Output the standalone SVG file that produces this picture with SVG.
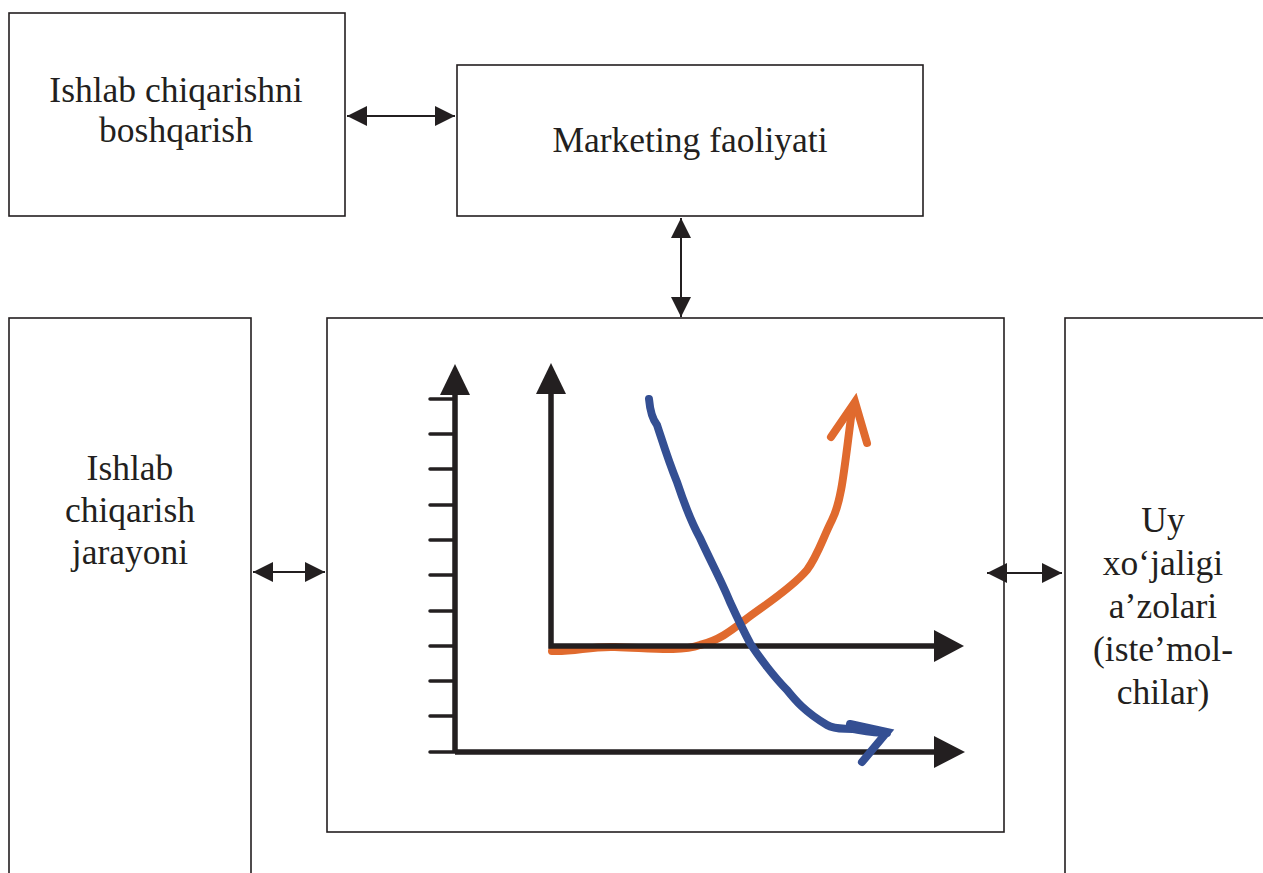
<svg xmlns="http://www.w3.org/2000/svg" width="1263" height="873" viewBox="0 0 1263 873">
<style>
.box{fill:#fff;stroke:#231f20;stroke-width:1.6}
.t{font-family:"Liberation Serif","Times New Roman",serif;font-size:35.5px;fill:#231f20;text-anchor:middle}
.con{stroke:#231f20;stroke-width:2;fill:none}
.ax{stroke:#231f20;stroke-width:5.5;fill:none}
.tick{stroke:#231f20;stroke-width:3.5;stroke-linecap:round}
.head{fill:#231f20}
</style>
<defs>
<marker id="ah" viewBox="0 0 20 20" refX="20" refY="10" markerWidth="20" markerHeight="20" markerUnits="userSpaceOnUse" orient="auto-start-reverse">
<path d="M0,0 L20,10 L0,20 Z" fill="#231f20"/>
</marker>
</defs>
<rect width="1263" height="873" fill="#fff"/>
<g id="node-boshqarish">
<rect class="box" x="9" y="13" width="336" height="203"/>
<text class="t" x="176" y="102">Ishlab chiqarishni</text>
<text class="t" x="176" y="142">boshqarish</text>
</g>
<g id="node-marketing">
<rect class="box" x="457" y="65" width="466" height="151"/>
<text class="t" x="690" y="152">Marketing faoliyati</text>
</g>
<g id="node-jarayon">
<rect class="box" x="9" y="318" width="242" height="570"/>
<text class="t" x="130" y="480">Ishlab</text>
<text class="t" x="130" y="522">chiqarish</text>
<text class="t" x="130" y="564">jarayoni</text>
</g>
<g id="node-uy">
<rect class="box" x="1065" y="318" width="220" height="570"/>
<text class="t" x="1163" y="532">Uy</text>
<text class="t" x="1163" y="575">xo‘jaligi</text>
<text class="t" x="1163" y="618">a’zolari</text>
<text class="t" x="1163" y="661">(iste’mol-</text>
<text class="t" x="1163" y="704">chilar)</text>
</g>
<g id="node-chart">
<rect class="box" x="327" y="318" width="677" height="514"/>
<g id="ticks">
<line class="tick" x1="430" y1="399" x2="455" y2="399"/>
<line class="tick" x1="430" y1="434" x2="455" y2="434"/>
<line class="tick" x1="430" y1="469" x2="455" y2="469"/>
<line class="tick" x1="430" y1="505" x2="455" y2="505"/>
<line class="tick" x1="430" y1="540" x2="455" y2="540"/>
<line class="tick" x1="430" y1="575" x2="455" y2="575"/>
<line class="tick" x1="430" y1="611" x2="455" y2="611"/>
<line class="tick" x1="430" y1="646" x2="455" y2="646"/>
<line class="tick" x1="430" y1="681" x2="455" y2="681"/>
<line class="tick" x1="430" y1="716" x2="455" y2="716"/>
<line class="tick" x1="430" y1="752" x2="455" y2="752"/>
</g>
<path d="M552,651 C575,652 590,646 615,647 C650,648 680,652 700,645 C720,640 732,630 745,620 C760,608 790,590 807,570 C818,555 822,540 832,520 C842,500 844,470 852,410" fill="none" stroke="#e06a2e" stroke-width="8" stroke-linecap="round"/>
<path d="M831,437 L855,402 L867,443" fill="none" stroke="#e06a2e" stroke-width="8" stroke-linecap="round" stroke-linejoin="miter"/>
<path d="M455,753 L455,395 M455,752 L935,752" class="ax"/>
<path class="head" d="M455,364 L470,395 L440,395 Z"/>
<path class="head" d="M965,752 L934,736 L934,768 Z"/>
<path d="M551,394 L551,646 L935,646" class="ax"/>
<path class="head" d="M551,363 L566,394 L536,394 Z"/>
<path class="head" d="M964,646 L934,630 L934,662 Z"/>
<path d="M649,399 C650,410 653,420 657,425 C662,440 668,460 677,482 C683,500 690,520 700,538 C710,560 722,582 730,602 C736,615 742,628 750,643 C758,656 775,678 787,690 C795,700 805,712 827,725 C835,730 845,728 853,729 C865,731 875,733 887,733" fill="none" stroke="#344f93" stroke-width="8" stroke-linecap="round"/>
<path d="M850,724 L887,732 L862,762" fill="none" stroke="#344f93" stroke-width="8" stroke-linecap="round"/>
</g>
<g id="connectors">
<line class="con" x1="347" y1="116" x2="455" y2="116" marker-start="url(#ah)" marker-end="url(#ah)"/>
<line class="con" x1="681" y1="218" x2="681" y2="317" marker-start="url(#ah)" marker-end="url(#ah)"/>
<line class="con" x1="253" y1="572" x2="325" y2="572" marker-start="url(#ah)" marker-end="url(#ah)"/>
<line class="con" x1="987" y1="573" x2="1062" y2="573" marker-start="url(#ah)" marker-end="url(#ah)"/>
</g>
</svg>
